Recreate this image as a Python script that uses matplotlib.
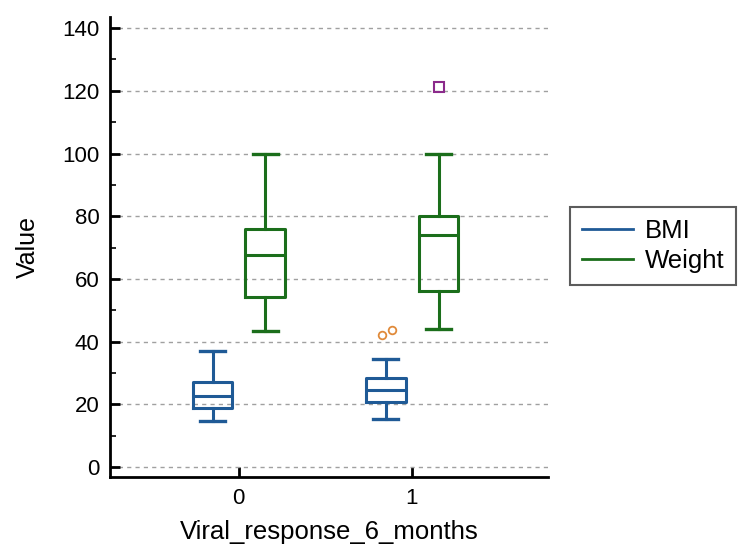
import matplotlib
matplotlib.use("Agg")
import matplotlib.pyplot as plt
from matplotlib.lines import Line2D

plt.rcParams['font.family'] = ['Liberation Sans', 'DejaVu Sans']

groups = ["0", "1"]
series = ["BMI", "Weight"]
colors = {"BMI": "#1f5a96", "Weight": "#1b6e1b"}

# five-number summaries per group: [low whisker, Q1, median, Q3, high whisker]
bmi_stats = [[14.7, 18.8, 22.6, 27.1, 37.0],
             [15.3, 20.7, 24.6, 28.4, 34.4]]
weight_stats = [[43.4, 54.2, 67.6, 75.9, 100.0],
                [44.0, 56.1, 74.0, 80.0, 100.0]]
bmi_outliers = [[], [42.1, 43.7]]
bmi_outlier_x = [[], [-0.17, -0.115]]
weight_outliers = [[], [121.2]]
weight_outlier_x = [[], [0.155]]

offsets = {"BMI": -0.15, "Weight": 0.155}
box_w = 0.23

fig = plt.figure(figsize=(7.41, 5.51), dpi=100)
ax = fig.add_axes([0.149, 0.134, 0.590, 0.835])

for name, stats in (("BMI", bmi_stats), ("Weight", weight_stats)):
    bx = []
    for s in stats:
        bx.append(dict(whislo=s[0], q1=s[1], med=s[2], q3=s[3], whishi=s[4], fliers=[]))
    pos = [i + offsets[name] for i in range(len(groups))]
    c = colors[name]
    ax.bxp(bx, positions=pos, widths=box_w, showfliers=False, manage_ticks=False,
           boxprops=dict(color=c, linewidth=2.2),
           medianprops=dict(color=c, linewidth=2.2),
           whiskerprops=dict(color=c, linewidth=2.2),
           capprops=dict(color=c, linewidth=2.4), capwidths=box_w * 0.62)

for i in range(len(groups)):
    for xo, v in zip(bmi_outlier_x[i], bmi_outliers[i]):
        ax.plot(i + xo, v, marker='o', ms=5.5, mfc='none', mec='#e08a3a', mew=1.3, ls='none')
    for xo, v in zip(weight_outlier_x[i], weight_outliers[i]):
        ax.plot(i + xo, v, marker='s', ms=7, mfc='none', mec='#8b2a8b', mew=1.5, ls='none')

ax.set_xlim(-0.74, 1.785)
ax.set_ylim(-3.2, 143.5)
ax.set_yticks(range(0, 141, 20))
ax.set_yticks(range(10, 141, 20), minor=True)
ax.set_xticks([0, 1])
ax.set_xticklabels(groups)
ax.yaxis.grid(True, which='major', linestyle=(0, (3, 3)), color='#a0a0a0', linewidth=1)
ax.set_axisbelow(True)
for sp in ('top', 'right'):
    ax.spines[sp].set_visible(False)
for sp in ('left', 'bottom'):
    ax.spines[sp].set_linewidth(2)
ax.tick_params(axis='both', which='major', direction='in', length=7, width=2, labelsize=16, pad=8)
ax.tick_params(axis='y', which='minor', direction='in', length=4, width=1.2)
ax.tick_params(axis='x', which='minor', bottom=False)

ax.set_xlabel("Viral_response_6_months", fontsize=18.5, labelpad=8)
ax.set_ylabel("Value", fontsize=18, labelpad=16)

handles = [Line2D([0], [0], color=colors[s], lw=2) for s in series]
leg = fig.legend(handles, series, loc='upper left', bbox_to_anchor=(570 / 741, 1 - 207 / 551),
                 bbox_transform=fig.transFigure, borderaxespad=0,
                 fontsize=18.5, frameon=True, fancybox=False, edgecolor='#333333',
                 handlelength=2.0, handletextpad=0.45, borderpad=0.45, labelspacing=0.25)
leg.get_frame().set_linewidth(1.5)

fig.savefig("out.png", dpi=100)
